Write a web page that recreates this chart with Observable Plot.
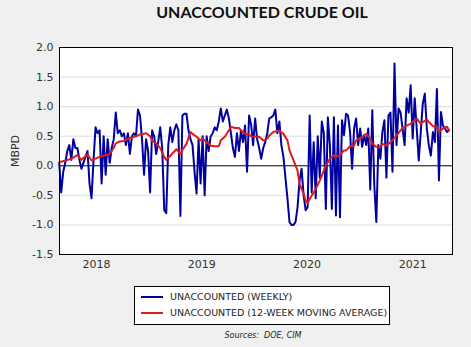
<!DOCTYPE html>
<html>
<head>
<meta charset="utf-8">
<script src="https://cdn.jsdelivr.net/npm/d3@7"></script>
<script src="https://cdn.jsdelivr.net/npm/@observablehq/plot@0.6"></script>
<style>
  html, body { margin: 0; padding: 0; }
  body { width: 471px; height: 347px; background: #f0f0f0; position: relative; overflow: hidden; font-family: "DejaVu Sans", sans-serif; }
  #title { position: absolute; left: 0; width: 524px; top: 2px; text-align: center; font-family: Lato, sans-serif; font-weight: bold; font-size: 16px; color: #111; }
  #chart { position: absolute; left: 0; top: 0; }
  #legend { position: absolute; left: 134px; top: 286px; width: 254px; height: 37px; border: 1px solid #000; background: #fff; font-family: "DejaVu Sans", sans-serif; font-size: 9.5px; color: #222; }
  .row { position: absolute; left: 6px; height: 14px; line-height: 14px; white-space: nowrap; }
  .sw { display: inline-block; width: 22px; height: 2px; vertical-align: middle; margin-right: 7px; position: relative; top: -1px; }
  #source { position: absolute; left: 0; width: 526px; top: 331px; text-align: center; font-family: "DejaVu Sans", sans-serif; font-style: italic; font-size: 8px; color: #222; }
</style>
</head>
<body>
<div id="title">UNACCOUNTED CRUDE OIL</div>
<div id="chart"></div>
<div id="legend"></div>
<div id="source">Sources:&nbsp; DOE, CIM</div>
<script>
// ---- data ----
const seriesNames = ["UNACCOUNTED (WEEKLY)", "UNACCOUNTED (12-WEEK MOVING AVERAGE)"];
const seriesColors = ["#0000a0", "#e01b1b"];
const firstWeek = "2017-08-25"; // first weekly observation
const weekly = [
  0.05, -0.45, -0.1, 0.05, 0.25, 0.35, 0.1, 0.45, 0.3, 0.3,
  0.1, -0.05, 0.05, 0.15, 0.25, -0.3, -0.55, 0.1, 0.65, 0.55,
  0.6, -0.3, 0.5, -0.15, 0.45, 0.05, 0.3, 0.45, 0.9, 0.55,
  0.6, 0.5, 0.55, 0.35, 0.55, 0.2, 0.5, 0.55, 0.5, 0.95,
  0.85, 0.45, -0.15, 0.45, 0.25, -0.45, 0.6, 0.5, 0.2, 0.4,
  0.65, 0.3, -0.75, -0.8, 0.35, 0.65, 0.4, 0.6, 0.7, 0.6,
  -0.85, 0.85, 0.88, 0.88, 0.6, 0.45, 0.35, -0.1, -0.47, 0.45,
  -0.3, 0.5, -0.5, 0.5, 0.25, 0.5, 0.55, 0.65, 0.6, 0.75,
  0.97, 0.75, 0.85, 0.95, 0.8, 0.55, 0.3, 0.15, 0.55, 0.25,
  0.6, 0.4, 0.68, -0.1, 0.85, 0.7, 0.35, 0.8, 0.45, 0.3,
  0.12, 0.3, 0.4, 0.55, 0.8, 0.82, 0.85, 0.95, 0.55, 0.75,
  0.35, 0.15, -0.2, -0.55, -0.95, -1.0, -1.0, -0.95, -0.7, -0.25,
  -0.05, -0.5, -0.75, -0.7, 0.85, -0.45, 0.4, -0.55, 0.5, -0.2,
  0.75, 0.55, -0.73, 0.82, 0.35, -0.73, 0.82, -0.84, 0.68, -0.87,
  0.77, 0.52, 0.88, 0.85, 0.57, -0.05, 0.63, 0.8, 0.35, 0.63,
  0.32, 0.52, 0.35, 0.63, -0.4, 0.94, -0.33, -0.95, 0.35, 0.12,
  0.57, 0.77, -0.2, 0.85, 0.9, -0.1, 1.73, 0.35, 0.97, 0.9,
  0.63, 0.35, 1.14, 0.9, 1.36, 0.46, 1.14, 0.63, 0.09, 0.57,
  1.05, 1.22, 0.63, 0.35, 0.17, 0.57, 0.4, 1.3, -0.25, 0.91,
  0.68, 0.63, 0.57, 0.6
];
const maWeeks = [0, 3, 6, 9, 11, 14, 16, 18, 20, 22, 25, 27, 28, 30, 32, 35, 38, 40, 43, 45,
  46, 48, 50, 52, 53, 55, 58, 60, 61, 63, 65, 66, 68, 70, 71, 73, 75, 77, 79, 80,
  82, 84, 85, 87, 89, 90, 92, 94, 95, 98, 99, 101, 103, 104, 106, 108, 109, 111, 113, 114,
  116, 118, 119, 121, 122, 123, 124, 126, 127, 129, 131, 132, 134, 136, 137, 139, 141, 142, 144, 146,
  147, 149, 150, 152, 154, 155, 157, 159, 160, 162, 164, 165, 167, 169, 170, 172, 174, 175, 177, 179,
  180, 182, 183, 185, 187, 188, 190, 192, 193];
const maValues = [0.06, 0.09, 0.12, 0.18, 0.1, 0.19, 0.09, 0.12, 0.15, 0.17, 0.2, 0.3, 0.38, 0.41, 0.42, 0.47, 0.5, 0.53, 0.55, 0.5,
  0.42, 0.38, 0.3, 0.15, 0.1, 0.17, 0.28, 0.2, 0.27, 0.37, 0.57, 0.54, 0.49, 0.43, 0.46, 0.4, 0.34, 0.33, 0.33, 0.43,
  0.49, 0.6, 0.66, 0.64, 0.64, 0.6, 0.54, 0.53, 0.5, 0.49, 0.49, 0.43, 0.46, 0.51, 0.57, 0.59, 0.59, 0.54, 0.43, 0.26,
  0.09, -0.08, -0.31, -0.47, -0.59, -0.63, -0.56, -0.45, -0.39, -0.25, -0.08, 0.0, 0.12, 0.18, 0.15, 0.18, 0.26, 0.26, 0.33, 0.34,
  0.43, 0.47, 0.49, 0.54, 0.46, 0.37, 0.32, 0.32, 0.37, 0.34, 0.4, 0.43, 0.51, 0.6, 0.64, 0.68, 0.71, 0.74, 0.8, 0.71,
  0.74, 0.78, 0.74, 0.67, 0.66, 0.57, 0.63, 0.66, 0.6];
const yTicks = [-1.5, -1.0, -0.5, 0.0, 0.5, 1.0, 1.5, 2.0];
const xTickYears = [2018, 2019, 2020, 2021];
const xDomain = ["2017-08-26", "2021-05-19"];

// ---- build ----
const start = new Date(firstWeek);
const weekDate = i => d3.utcDay.offset(start, 7 * i);
const weeklyData = weekly.map((v, i) => ({date: weekDate(i), value: v}));
const maData = maWeeks.map((w, i) => ({date: weekDate(w), value: maValues[i]}));
const yearTicks = xTickYears.map(y => new Date(Date.UTC(y, 0, 1)));

const chart = Plot.plot({
  width: 471,
  height: 275,
  marginLeft: 59,
  marginRight: 19,
  marginTop: 47,
  marginBottom: 21,
  style: {background: "transparent", fontFamily: "DejaVu Sans, sans-serif", fontSize: "11px", color: "#333", overflow: "visible"},
  x: {type: "utc", domain: xDomain.map(d => new Date(d)), ticks: yearTicks, tickFormat: d => String(d.getUTCFullYear()), tickSize: 0, tickPadding: 6, label: null},
  y: {domain: [-1.5, 2], ticks: yTicks, tickFormat: d => d.toFixed(1), tickSize: 0, tickPadding: 6, label: "MBPD", labelAnchor: "center", labelArrow: "none", labelOffset: 48},
  marks: [
    Plot.frame({fill: "white", stroke: null}),
    Plot.ruleY(yTicks.filter(d => d !== 0), {stroke: "#dcdcdc", strokeWidth: 1}),
    Plot.ruleY([0], {stroke: "#000", strokeWidth: 1}),
    Plot.lineY(weeklyData, {x: "date", y: "value", stroke: seriesColors[0], strokeWidth: 2}),
    Plot.lineY(maData, {x: "date", y: "value", stroke: seriesColors[1], strokeWidth: 2}),
    Plot.frame({stroke: "#000", strokeWidth: 1})
  ]
});
document.getElementById("chart").appendChild(chart);

const legend = document.getElementById("legend");
seriesNames.forEach((name, i) => {
  const row = document.createElement("div");
  row.className = "row";
  row.style.top = (3 + i * 16) + "px";
  row.innerHTML = `<span class="sw" style="background:${seriesColors[i]}"></span>${name}`;
  legend.appendChild(row);
});
</script>
</body>
</html>
